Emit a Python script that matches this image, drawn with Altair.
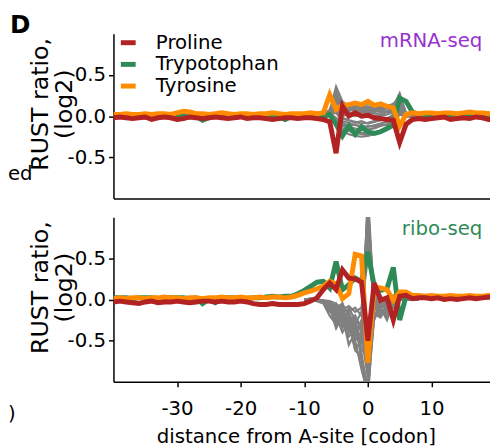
import altair as alt
import pandas as pd

FONT = "DejaVu Sans"
X = list(range(-40, 21))          # codon positions of the highlighted series
XG = list(range(-10, 9))          # codon positions of the grey series
NAMES = ["Proline", "Trypotophan", "Tyrosine"]
COLORS = ["#b22222", "#2e8b57", "#ff8c00"]
XTICKS = [-30, -20, -10, 0, 10]
YTICKS = [-0.5, 0.0, 0.5]

# ---------------- mRNA-seq (top) ----------------
mrna_pro = [
    -0.02, -0.01, -0.02, -0.03, -0.02, -0.01, -0.04, -0.02, -0.01, -0.02,
    -0.04, -0.03, -0.01, -0.02, -0.03, -0.02, -0.01, -0.02, -0.03, -0.02,
    -0.01, -0.03, -0.02, -0.02, -0.03, -0.04, -0.03, -0.02, -0.02, -0.03,
    -0.02, -0.02, -0.03, -0.04, -0.07, -0.45, 0.12, 0.00, 0.04, 0.00,
    0.01, -0.02, -0.03, -0.04, -0.05, -0.32, -0.10, -0.04, -0.03, -0.04,
    -0.03, -0.02, -0.01, -0.04, -0.03, -0.02, -0.03, -0.01, -0.02, -0.04,
    -0.04]
mrna_trp = [
    0.01, 0.00, 0.01, 0.00, 0.00, -0.01, 0.00, 0.01, 0.00, -0.01,
    0.00, 0.00, -0.01, 0.00, -0.05, -0.02, 0.00, 0.00, -0.01, -0.01,
    0.00, 0.00, -0.01, 0.00, 0.00, 0.00, -0.01, -0.04, 0.00, 0.00,
    0.01, 0.00, 0.01, 0.00, 0.02, -0.10, -0.24, -0.12, -0.22, -0.13,
    -0.19, -0.21, -0.19, -0.15, -0.11, 0.22, 0.18, 0.05, 0.02, 0.01,
    0.02, 0.01, 0.02, 0.01, 0.01, 0.02, 0.01, 0.02, 0.01, 0.02,
    0.01]
mrna_tyr = [
    0.02, 0.02, 0.03, 0.02, 0.02, 0.03, 0.02, 0.03, 0.03, 0.02,
    0.04, 0.06, 0.05, 0.03, 0.03, 0.02, 0.03, 0.04, 0.03, 0.02,
    0.03, 0.03, 0.02, 0.03, 0.03, 0.04, 0.03, 0.02, 0.03, 0.03,
    0.03, 0.04, 0.03, 0.04, 0.26, 0.08, 0.13, 0.14, 0.16, 0.14,
    0.18, 0.13, 0.15, 0.12, 0.10, -0.12, 0.02, 0.04, 0.03, 0.04,
    0.04, 0.03, 0.04, 0.04, 0.03, 0.04, 0.05, 0.04, 0.04, 0.03,
    0.04]
mrna_grey = [
    [0, 0, 0.01, 0.02, 0.06, 0.36, 0.18, 0.12, 0.14, 0.10, 0.12, 0.11, 0.13, 0.10, 0.12, 0.28, 0.03, 0.01, 0],
    [0, 0.01, 0, 0.01, 0.05, 0.30, 0.12, 0.15, 0.10, 0.13, 0.09, 0.12, 0.10, 0.11, 0.15, 0.22, 0.02, 0, 0.01],
    [0.01, 0, 0, 0.02, 0.08, 0.25, 0.10, 0.08, 0.12, 0.09, 0.11, 0.08, 0.10, 0.09, 0.12, 0.18, 0.01, 0, 0],
    [0, 0, 0.01, 0, 0.04, 0.20, 0.08, 0.12, 0.07, 0.10, 0.06, 0.09, 0.07, 0.10, 0.08, 0.14, 0.02, 0.01, 0],
    [0, 0.01, 0, 0.01, 0.03, 0.15, 0.14, 0.06, 0.09, 0.05, 0.08, 0.06, 0.08, 0.05, 0.07, 0.10, 0.0, 0, 0],
    [0, 0, 0, 0.02, 0.06, 0.28, 0.05, 0.10, 0.05, 0.08, 0.04, 0.07, 0.05, 0.06, 0.10, 0.20, 0.03, 0, 0],
    [0.01, 0, 0.01, 0.01, 0.02, 0.10, 0.02, 0.04, 0.02, 0.05, 0.03, 0.04, 0.02, 0.05, 0.04, 0.06, 0.01, 0, 0.01],
    [0, 0, 0, 0.01, 0.03, 0.18, 0.16, 0.13, 0.16, 0.12, 0.15, 0.14, 0.16, 0.13, 0.14, 0.25, 0.04, 0.01, 0],
    [0, 0, -0.01, 0, 0.02, -0.05, -0.12, -0.15, -0.18, -0.20, -0.21, -0.20, -0.18, -0.14, -0.10, 0.05, 0.02, 0, 0],
    [0, 0, 0, -0.01, 0.01, -0.08, -0.15, -0.18, -0.20, -0.22, -0.23, -0.21, -0.18, -0.15, -0.08, 0.10, 0.01, 0, 0],
    [0, -0.01, 0, 0, 0.03, -0.02, -0.10, -0.13, -0.15, -0.17, -0.16, -0.15, -0.12, -0.10, -0.05, 0.08, 0.0, 0, 0],
    [0, 0, 0, 0, 0.02, 0.04, -0.06, -0.08, -0.11, -0.12, -0.13, -0.11, -0.09, -0.07, -0.03, 0.12, 0.01, 0, 0],
    [0, 0, 0, -0.01, 0.0, -0.10, -0.18, -0.22, -0.24, -0.25, -0.24, -0.22, -0.20, -0.16, -0.10, 0.02, -0.01, 0, 0],
    [0, 0, 0, 0, 0.01, 0.08, -0.03, -0.05, -0.07, -0.09, -0.08, -0.06, -0.05, -0.04, 0.0, 0.15, 0.02, 0.0, 0],
    [0, 0, 0.01, 0, 0.03, 0.22, 0.00, 0.03, 0.00, 0.02, -0.01, 0.01, 0.00, 0.02, 0.05, 0.12, 0.01, 0, 0],
    [0, 0, 0, 0.01, 0.04, 0.12, -0.02, -0.05, -0.08, -0.06, -0.09, -0.07, -0.05, -0.03, 0.02, 0.16, 0.02, 0, 0],
    [0, 0, 0, 0, 0.02, 0.06, -0.08, -0.12, -0.10, -0.14, -0.12, -0.13, -0.10, -0.11, -0.06, 0.04, 0.0, 0, 0],
]

# ---------------- ribo-seq (bottom) ----------------
ribo_pro = [
    -0.03, -0.02, -0.03, -0.04, -0.05, -0.03, -0.02, -0.04, -0.03, -0.03,
    -0.02, -0.03, -0.04, -0.03, -0.02, -0.02, -0.03, -0.02, -0.03, -0.03,
    -0.02, -0.03, -0.05, -0.06, -0.06, -0.05, -0.06, -0.06, -0.06, -0.06,
    -0.05, -0.02, 0.02, 0.12, 0.20, 0.12, 0.36, 0.26, 0.25, 0.21,
    -0.50, 0.20, -0.01, 0.02, -0.25, 0.04, 0.05, 0.01, 0.02, 0.02,
    0.01, 0.02, 0.00, 0.01, 0.00, 0.01, 0.02, 0.01, 0.02, 0.03,
    0.03]
ribo_trp = [
    0.02, 0.02, 0.02, 0.01, 0.02, 0.02, 0.02, 0.01, 0.02, 0.02,
    0.02, 0.02, 0.01, 0.02, -0.05, 0.00, -0.04, 0.01, 0.02, 0.02,
    0.02, 0.01, 0.02, 0.02, 0.03, 0.04, 0.03, 0.04, 0.04, 0.07,
    0.11, 0.16, 0.21, 0.22, 0.14, 0.46, 0.12, 0.18, 0.26, 0.22,
    0.58, 0.16, 0.11, 0.13, 0.39, -0.25, 0.04, 0.04, 0.03, 0.03,
    0.03, 0.03, 0.03, 0.03, 0.03, 0.03, 0.03, 0.03, 0.03, 0.03,
    0.03]
ribo_tyr = [
    0.01, 0.02, 0.01, 0.02, 0.02, 0.01, 0.02, 0.02, 0.03, 0.02,
    0.02, 0.01, 0.02, 0.02, 0.01, 0.02, 0.02, 0.03, 0.02, 0.02,
    0.03, 0.02, 0.02, 0.03, 0.02, 0.03, 0.03, 0.02, 0.03, 0.05,
    0.08, 0.10, 0.13, 0.16, 0.22, 0.19, 0.01, 0.07, 0.55, 0.53,
    -0.77, 0.15, 0.14, 0.12, -0.01, 0.09, 0.09, 0.05, 0.05, 0.04,
    0.05, 0.04, 0.04, 0.05, 0.04, 0.04, 0.05, 0.04, 0.04, 0.05,
    0.05]
ribo_grey = [
    [0, 0, -0.02, -0.05, -0.20, -0.30, -0.10, -0.35, -0.30, -0.55, 1.30, -0.10, -0.05, -0.15, 0.00, 0.02, 0.01, 0, 0],
    [0, 0, -0.01, -0.03, -0.10, -0.25, -0.35, -0.20, -0.50, -0.40, 1.10, -0.20, -0.10, -0.05, -0.08, 0.00, 0.01, 0, 0],
    [0, 0.01, 0, -0.02, -0.12, -0.05, -0.25, -0.45, -0.35, -0.65, -1.20, -0.05, -0.15, -0.20, -0.05, 0.01, 0, 0, 0],
    [0, 0, -0.01, -0.04, -0.08, -0.30, -0.15, -0.30, -0.60, -0.50, 0.90, -0.15, -0.20, -0.10, 0.02, 0.03, 0, 0, 0],
    [0, 0, 0, -0.02, -0.05, -0.15, -0.30, -0.10, -0.25, -0.75, -1.10, 0.00, -0.12, -0.18, -0.10, 0.00, 0.01, 0, 0],
    [0, 0, -0.02, -0.03, -0.15, -0.20, -0.05, -0.40, -0.20, -0.35, 1.20, -0.25, -0.05, -0.12, 0.03, 0.02, 0, 0, 0],
    [0, 0.01, 0, -0.01, -0.06, -0.12, -0.20, -0.30, -0.45, -0.30, -0.90, -0.10, -0.18, -0.05, -0.02, 0.01, 0, 0, 0],
    [0, 0, -0.01, -0.02, -0.04, -0.08, -0.10, -0.15, -0.10, -0.20, 0.70, -0.05, 0.05, -0.10, 0.05, 0.02, 0.01, 0, 0],
    [0, 0, 0, -0.03, -0.10, -0.35, -0.20, -0.55, -0.40, -0.45, -0.95, -0.20, -0.10, -0.25, -0.05, 0.00, 0, 0, 0],
    [0, 0, -0.01, -0.02, -0.03, -0.10, -0.05, -0.20, -0.30, -0.15, 1.05, 0.05, -0.08, -0.02, 0.00, 0.02, 0.01, 0, 0],
    [0, 0.01, 0, -0.02, -0.08, -0.18, -0.28, -0.15, -0.35, -0.60, -0.70, -0.12, -0.05, -0.15, -0.08, 0.01, 0, 0, 0],
    [0, 0, -0.01, -0.01, -0.02, -0.05, -0.12, -0.08, -0.15, -0.10, 0.50, 0.08, 0.00, -0.05, 0.04, 0.03, 0.01, 0, 0],
    [0, 0, 0, -0.02, -0.07, -0.22, -0.12, -0.35, -0.50, -0.85, -1.15, -0.18, -0.22, -0.08, -0.03, 0.00, 0, 0, 0],
    [0, 0, -0.01, -0.03, -0.09, -0.15, -0.32, -0.25, -0.20, -0.40, 0.85, -0.08, -0.12, -0.20, 0.00, 0.02, 0, 0, 0],
    [0, 0, 0, -0.01, -0.05, -0.28, -0.08, -0.18, -0.40, -0.25, -0.60, -0.02, -0.15, -0.10, -0.06, 0.01, 0.01, 0, 0],
    [0, 0.01, -0.01, -0.02, -0.11, -0.10, -0.22, -0.38, -0.28, -0.50, 1.15, -0.14, -0.02, -0.16, 0.02, 0.03, 0, 0, 0],
    [0, 0, 0, -0.02, -0.04, -0.20, -0.40, -0.28, -0.62, -0.70, -1.05, -0.22, -0.10, -0.06, -0.04, 0.00, 0, 0, 0],
]

W, H = 382, 167
xscale = alt.Scale(domain=[-40, 19.2], nice=False, zero=False)
yscale = alt.Scale(domain=[-1, 1], nice=False, zero=False)
cscale = alt.Scale(domain=NAMES, range=COLORS)

yaxis = alt.Axis(values=YTICKS, format=".1f",
                 labelExpr="replace(datum.label, '\u2212', '-')",
                 title=["RUST ratio,", "(log2)"], titleX=-62, titleY=71,
                 titleAngle=270, titleAlign="center", titleBaseline="bottom",
                 titleFontSize=24, titleLineHeight=24,
                 tickSize=5, labelPadding=3, grid=False)
xaxis_top = alt.Axis(labels=False, ticks=False, title=None, domain=True, grid=False)
xaxis_bot = alt.Axis(values=XTICKS, format="d",
                     labelExpr="replace(datum.label, '\u2212', '-')",
                     title="distance from A-site [codon]", titleX=185,
                     tickSize=5, labelPadding=12, titlePadding=9, grid=False)

legend = alt.Legend(title=None, orient="none", legendX=5, legendY=-1,
                    symbolType="stroke", symbolStrokeWidth=5, symbolSize=225,
                    labelFont=FONT, labelFontSize=20, labelColor="black",
                    rowPadding=2, labelOffset=18, padding=0)


def grey_df(series):
    rows = []
    for i, vals in enumerate(series):
        for x, v in zip(XG, vals):
            rows.append({"x": x, "y": v, "id": i})
    return pd.DataFrame(rows)


def panel(grey_series, hl, label, label_color, label_y, top):
    xaxis = xaxis_top if top else xaxis_bot
    enc_x = alt.X("x:Q", scale=xscale, axis=xaxis)
    enc_y = alt.Y("y:Q", scale=yscale, axis=yaxis)
    layers = [alt.Chart(grey_df(grey_series)).mark_line(
        color="#808080", strokeWidth=2.2, clip=True).encode(x=enc_x, y=enc_y, detail="id:N")]
    for name in ["Trypotophan", "Tyrosine", "Proline"]:
        df = pd.DataFrame({"x": X, "y": hl[name], "aa": name})
        layers.append(alt.Chart(df).mark_line(strokeWidth=5, clip=True).encode(
            x=enc_x, y=enc_y,
            color=alt.Color("aa:N", scale=cscale, legend=legend if top else None)))
    one = pd.DataFrame({"a": [0]})
    layers.append(alt.Chart(one).mark_text(
        text=label, align="right", baseline="middle", font=FONT, fontSize=20,
        color=label_color).encode(x=alt.datum(18.0), y=alt.datum(label_y)))
    if top:
        layers.append(alt.Chart(one).mark_text(
            text="D", align="left", baseline="middle", font=FONT, fontSize=25,
            fontWeight="bold", color="black").encode(x=alt.value(-105), y=alt.value(-9)))
        layers.append(alt.Chart(one).mark_text(
            text="ed", align="left", baseline="middle", font=FONT, fontSize=20,
            color="black").encode(x=alt.value(-107), y=alt.value(142)))
    else:
        layers.append(alt.Chart(one).mark_text(
            text=")", align="left", baseline="middle", font=FONT, fontSize=20,
            color="black").encode(x=alt.value(-107), y=alt.value(200)))
    return alt.layer(*layers).properties(width=W, height=H)


top = panel(mrna_grey, {"Proline": mrna_pro, "Trypotophan": mrna_trp, "Tyrosine": mrna_tyr},
            "mRNA-seq", "#9932cc", 0.91, True)
bottom = panel(ribo_grey, {"Proline": ribo_pro, "Trypotophan": ribo_trp, "Tyrosine": ribo_tyr},
               "ribo-seq", "#2e8b57", 0.86, False)

chart = alt.vconcat(top, bottom, spacing=19).resolve_scale(color="independent").properties(
    padding={"left": 0, "top": 2, "right": 0, "bottom": 0}
).configure_axis(
    domainColor="black", domainWidth=1.5, tickColor="black", tickWidth=1.5,
    labelFont=FONT, labelFontSize=20, labelColor="black",
    titleFont=FONT, titleFontSize=20, titleFontWeight="normal", titleColor="black",
).configure_view(stroke=None)

chart.save("out.html", embed_options={"renderer": "svg", "actions": False})
